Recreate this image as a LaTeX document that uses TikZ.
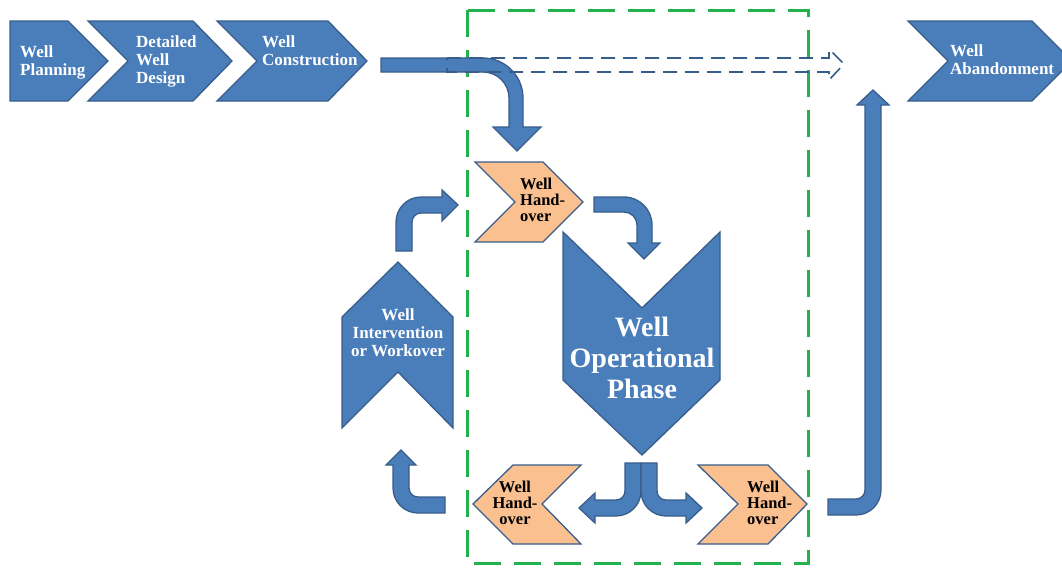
\documentclass[tikz,border=0pt]{standalone}
\usepackage{fontspec}
\setmainfont{Liberation Serif}
\definecolor{blueF}{HTML}{4A7EBB}
\definecolor{blueD}{HTML}{385D8A}
\definecolor{orangeF}{HTML}{FAC090}
\definecolor{greenD}{HTML}{22B14C}
\begin{document}
\begin{tikzpicture}[x=1pt,y=-1pt,
  blk/.style={fill=blueF, draw=blueD, line width=1.3pt, line join=miter},
  orng/.style={fill=orangeF, draw=blueD, line width=1.3pt, line join=miter},
  wtxt/.style={text=white, font=\bfseries\fontsize{17}{18}\selectfont, inner sep=0pt, align=left},
  htxt/.style={text=black, font=\bfseries\fontsize{16.5}{16}\selectfont, inner sep=0pt},
  bigtxt/.style={text=white, font=\bfseries\fontsize{28}{31}\selectfont, inner sep=0pt, align=center}]
\useasboundingbox (0,0) rectangle (1062,568);
\clip (0,0) rectangle (1062,568);

% green dashed frame
\draw[greenD, line width=3pt, dash pattern=on 27pt off 13pt] (467,10) rectangle (808,563);

% top process chevrons
\draw[blk] (10,21) -- (68,21) -- (108,61) -- (68,101) -- (10,101) -- cycle;
\draw[blk] (88,21) -- (193,21) -- (232,61) -- (193,101) -- (88,101) -- (128,61) -- cycle;
\draw[blk] (217,21) -- (328,21) -- (367,61) -- (328,101) -- (217,101) -- (257,61) -- cycle;
\draw[blk] (908,21) -- (1032,21) -- (1072,61) -- (1032,101) -- (908,101) -- (948,61) -- cycle;
\node[wtxt, anchor=west] (plan) at (20,62) {Well\\Planning};
\node[wtxt, anchor=west] (design) at (136,61) {Detailed\\Well\\Design};
\node[wtxt, anchor=west] (constr) at (262,51) {Well\\Construction};
\node[wtxt, anchor=west] (aband) at (950,60) {Well\\Abandonment};

% arrow construction -> handover
\draw[blk] (381,58) -- (483,58) arc[start angle=-90, end angle=0, radius=40] -- (523,127) -- (541,127) -- (517,151) -- (493,127) -- (509,127) -- (509,98) arc[start angle=0, end angle=-90, radius=26] -- (381,72) -- cycle;
% dashed arrow
\draw[blueD, line width=1.6pt, dash pattern=on 14pt off 8pt] (447,58) -- (829,58) -- (829,49) -- (844,64) -- (829,80) -- (829,72) -- (447,72) -- cycle;

% top handover
\draw[orng] (475,162) -- (543,162) -- (583,202) -- (543,242) -- (475,242) -- (515,202) -- cycle;
\node[htxt, anchor=west, align=left] (ho1) at (520,200) {Well\\Hand-\\over};

% arrow handover -> operational
\draw[blk] (594,197) -- (624,197) arc[start angle=-90, end angle=0, radius=28] -- (652,243) -- (660,243) -- (644,259) -- (628,243) -- (637,243) -- (637,225) arc[start angle=0, end angle=-90, radius=13] -- (594,212) -- cycle;

% operational phase
\draw[blk] (563,232) -- (642,308) -- (720,232) -- (720,380) -- (642,455) -- (563,380) -- cycle;
\node[bigtxt] (op) at (642,358) {Well\\Operational\\Phase};

% intervention
\draw[blk] (342,317) -- (398,262) -- (453,317) -- (453,428) -- (398,372) -- (342,428) -- cycle;
\node[wtxt, align=center] (int) at (398,333) {Well\\Intervention\\or Workover};

% arrow intervention -> top handover
\draw[blk] (396,251) -- (396,222) arc[start angle=180, end angle=270, radius=25] -- (442,197) -- (442,190) -- (458,205) -- (442,221) -- (442,213) -- (421,213) arc[start angle=270, end angle=180, radius=9] -- (412,251) -- cycle;

% split arrows from operational
\draw[blk] (625,463) -- (641,463) -- (641,491) arc[start angle=0, end angle=90, radius=25] -- (595,516) -- (595,523) -- (579,508) -- (595,493) -- (595,500) -- (616,500) arc[start angle=90, end angle=0, radius=9] -- cycle;
\draw[blk] (641,463) -- (657,463) -- (657,491) arc[start angle=180, end angle=90, radius=9] -- (686,500) -- (686,493) -- (702,508) -- (686,523) -- (686,516) -- (666,516) arc[start angle=90, end angle=180, radius=25] -- cycle;

% bottom handovers
\draw[orng] (473,504) -- (513,465) -- (581,465) -- (542,504) -- (581,544) -- (513,544) -- cycle;
\node[htxt, align=center] (ho2) at (515,503) {Well\\Hand-\\over};
\draw[orng] (698,465) -- (768,465) -- (807,504) -- (768,544) -- (698,544) -- (738,504) -- cycle;
\node[htxt, anchor=west, align=left] (ho3) at (747,503) {Well\\Hand-\\over};

% arrow bottom-left handover -> intervention
\draw[blk] (445,497) -- (418,497) arc[start angle=90, end angle=180, radius=9] -- (409,465) -- (416,465) -- (401,450) -- (386,465) -- (393,465) -- (393,488) arc[start angle=180, end angle=90, radius=25] -- (445,513) -- cycle;

% arrow bottom-right handover -> abandonment
\draw[blk] (828,499) -- (856,499) arc[start angle=90, end angle=0, radius=9] -- (865,105) -- (857,105) -- (873,90) -- (889,105) -- (881,105) -- (881,490) arc[start angle=0, end angle=90, radius=25] -- (828,515) -- cycle;
\end{tikzpicture}
\end{document}
